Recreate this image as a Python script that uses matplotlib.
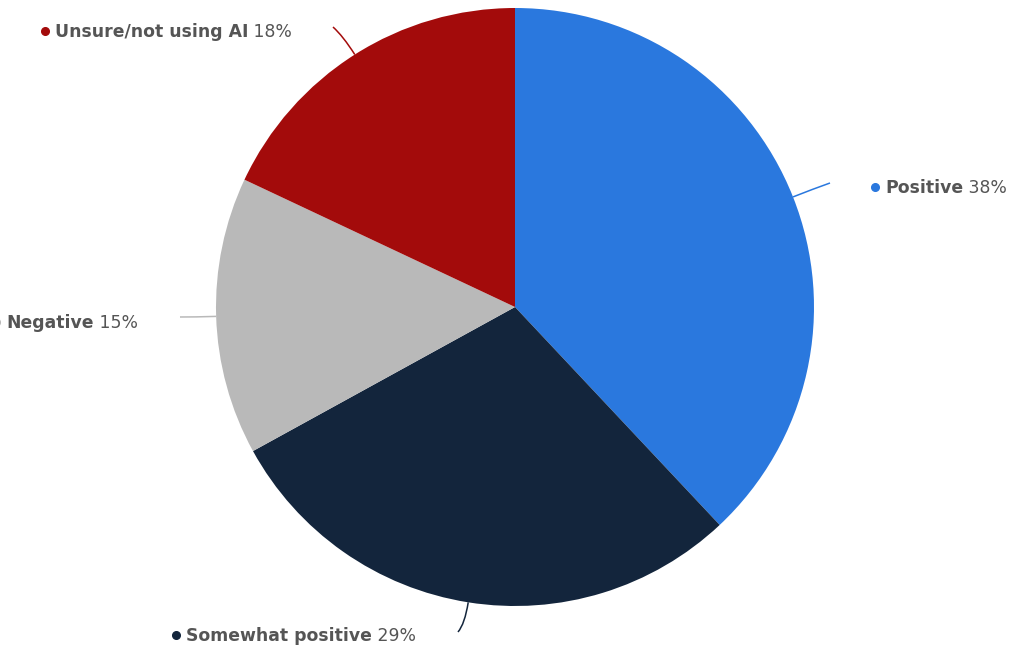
import numpy as np
import matplotlib
matplotlib.use("Agg")
import matplotlib.pyplot as plt
from matplotlib.path import Path
from matplotlib.patches import PathPatch

plt.rcParams['font.family'] = ['DejaVu Sans']

categories = ["Positive", "Somewhat positive", "Negative", "Unsure/not using AI"]
values = [38, 29, 15, 18]
colors = ["#2a78de", "#13253c", "#b9b9b9", "#a30b0b"]

W, H = 1015, 648
fig = plt.figure(figsize=(W / 100, H / 100), dpi=100)
ax = fig.add_axes([0, 0, 1, 1])

cx, cy, R = 515, H - 307, 299
wedges, _ = ax.pie(values, colors=colors, startangle=90, counterclock=False,
                   center=(cx, cy), radius=R, frame=True,
                   wedgeprops=dict(linewidth=0))
ax.set_xlim(0, W)
ax.set_ylim(0, H)
ax.set_aspect("equal")
ax.axis("off")

# label connection points (image coords)
conn = {
    "Positive": (830, 183),
    "Somewhat positive": (458, 632),
    "Negative": (180, 317),
    "Unsure/not using AI": (333, 27),
}
text_pos = {
    "Positive": ((875, 188), "right"),
    "Somewhat positive": ((176, 636), "right"),
    "Negative": ((138, 323), "left"),
    "Unsure/not using AI": ((292, 32), "left"),
}

fig.canvas.draw()
renderer = fig.canvas.get_renderer()
fs = 12.4
tcol = "#555555"

total = sum(values)
cum = 0
for cat, v, c in zip(categories, values, colors):
    mid = 90 - (cum + v / 2) / total * 360
    cum += v
    a = np.deg2rad(mid)
    p0 = (cx + R * np.cos(a), cy + R * np.sin(a))
    ctrl = (cx + (R + 22) * np.cos(a), cy + (R + 22) * np.sin(a))
    ex, ey = conn[cat]
    p2 = (ex, H - ey)
    path = Path([p0, ctrl, p2], [Path.MOVETO, Path.CURVE3, Path.CURVE3])
    ax.add_patch(PathPatch(path, fill=False, edgecolor=c, lw=1.1))

    (tx, ty), mode = text_pos[cat]
    ty = H - ty
    pct = f" {v}%"
    if mode == "right":
        ax.plot([tx], [ty + 1], "o", color=c, ms=5.5)
        t1 = ax.text(tx + 10, ty, cat, fontsize=fs, fontweight="bold",
                     color=tcol, ha="left", va="center")
        bb = t1.get_window_extent(renderer)
        ax.text(bb.x1, ty, pct, fontsize=fs, color=tcol, ha="left", va="center")
    else:
        t2 = ax.text(tx, ty, pct, fontsize=fs, color=tcol, ha="right", va="center")
        bb = t2.get_window_extent(renderer)
        t1 = ax.text(bb.x0, ty, cat, fontsize=fs, fontweight="bold",
                     color=tcol, ha="right", va="center")
        bb1 = t1.get_window_extent(renderer)
        ax.plot([bb1.x0 - 10], [ty + 1], "o", color=c, ms=5.5)

fig.savefig("out.png", dpi=100)
